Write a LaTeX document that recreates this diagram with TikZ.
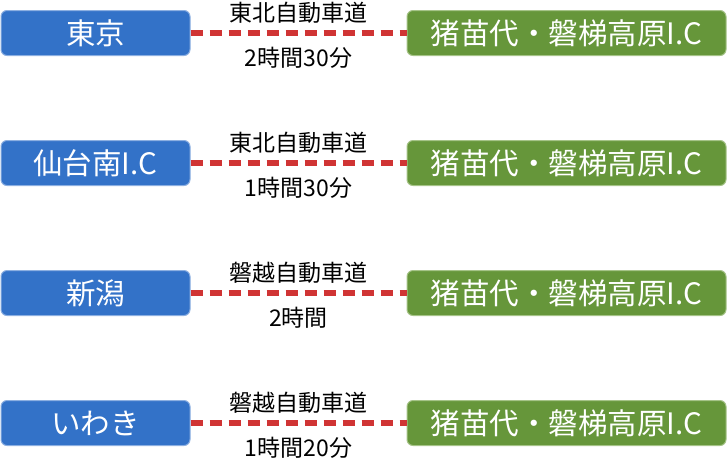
\documentclass[tikz,border=0pt]{standalone}
\usepackage{fontspec}
\setmainfont{Noto Sans CJK JP}
\definecolor{bbox}{RGB}{51,114,200}
\definecolor{bline}{RGB}{140,175,225}
\definecolor{gbox}{RGB}{102,150,58}
\definecolor{gline}{RGB}{165,195,135}
\definecolor{road}{RGB}{208,52,52}
\begin{document}
\begin{tikzpicture}[x=1pt,y=-1pt,
  origin/.style={draw=bline,line width=1pt,fill=bbox,rounded corners=6pt,minimum width=189pt,minimum height=45pt,inner sep=0pt,text=white,font=\fontsize{29.5}{32}\selectfont},
  dest/.style={draw=gline,line width=1pt,fill=gbox,rounded corners=6pt,minimum width=319pt,minimum height=45pt,inner sep=0pt,text=white,font=\fontsize{29.5}{32}\selectfont},
  roadline/.style={draw=road,line width=5.5pt,dash pattern=on 12pt off 7pt},
  lbl/.style={inner sep=0pt,font=\fontsize{23}{26}\selectfont,text=black}]
\useasboundingbox (0,0) rectangle (727,459);
\foreach \i/\o/\r/\t in {1/東京/東北自動車道/2時間30分, 2/仙台南I.C/東北自動車道/1時間30分, 3/新潟/磐越自動車道/2時間, 4/いわき/磐越自動車道/1時間20分}{
  \pgfmathsetmacro{\yy}{33+130*(\i-1)}
  \node[origin] (o\i) at (95.5,\yy) {\o};
  \node[dest] (d\i) at (566.5,\yy) {猪苗代・磐梯高原I.C};
  \draw[roadline] (o\i.east) -- (d\i.west);
  \node[lbl] (r\i) at (298.5,\yy-20.5) {\r};
  \node[lbl] (t\i) at (298.5,\yy+25) {\t};
}
\end{tikzpicture}
\end{document}
